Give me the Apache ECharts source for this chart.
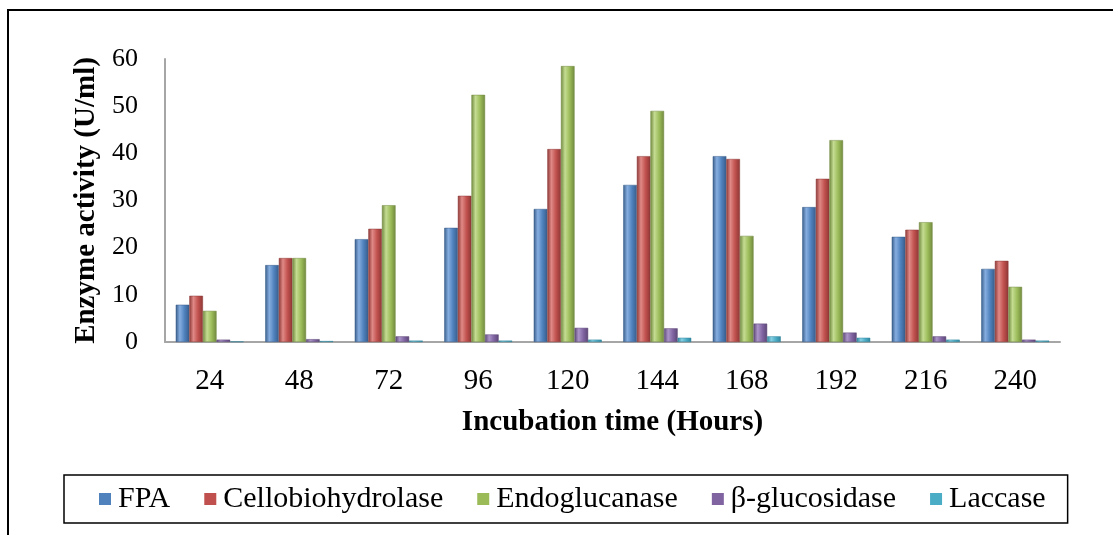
<!DOCTYPE html>
<html>
<head>
<meta charset="utf-8">
<script src="https://cdn.jsdelivr.net/npm/echarts@6/dist/echarts.min.js"></script>
<style>
  html, body { margin: 0; padding: 0; background: #fff; }
  #chart { width: 1113px; height: 535px; }
</style>
</head>
<body>
<div id="chart"></div>
<script>
// incubation time (hours)
const hours = ['24', '48', '72', '96', '120', '144', '168', '192', '216', '240']
// enzyme activity (U/ml)
const fpa = [7.9, 16.3, 21.8, 24.2, 28.2, 33.3, 39.4, 28.6, 22.3, 15.5]
const cellobiohydrolase = [9.8, 17.8, 24.0, 31.0, 40.9, 39.4, 38.8, 34.6, 23.8, 17.2]
const endoglucanase = [6.6, 17.8, 29.0, 52.4, 58.5, 49.0, 22.5, 42.8, 25.4, 11.7]
const betaGlucosidase = [0.5, 0.6, 1.2, 1.6, 3.0, 2.9, 3.9, 2.0, 1.2, 0.5]
const laccase = [0.1, 0.2, 0.3, 0.3, 0.5, 0.9, 1.2, 0.9, 0.5, 0.3]
const yTicks = [0, 10, 20, 30, 40, 50, 60]

const seriesNames = ['FPA', 'Cellobiohydrolase', 'Endoglucanase', 'β-glucosidase', 'Laccase']
const seriesData = [fpa, cellobiohydrolase, endoglucanase, betaGlucosidase, laccase]
// base / light / dark shades for the cylinder look
const palette = [
  ['#4f81bd', '#86aee0', '#385d8a'],
  ['#c0504d', '#e08986', '#8c3836'],
  ['#9bbb59', '#c4dc91', '#71893f'],
  ['#8064a2', '#ab95c8', '#5c4776'],
  ['#4bacc6', '#86d0e3', '#31859c']
]

const serif = '"Liberation Serif", "Times New Roman", serif'
const chart = echarts.init(document.getElementById('chart'))

const cylinder = c => new echarts.graphic.LinearGradient(0, 0, 1, 0, [
  { offset: 0, color: c[2] },
  { offset: 0.3, color: c[1] },
  { offset: 0.65, color: c[0] },
  { offset: 1, color: c[2] }
])

const option = {
  backgroundColor: '#fff',
  animation: false,
  graphic: [
    {
      // outer frame, cut off at right and bottom
      type: 'rect',
      shape: { x: 8, y: 10, width: 1200, height: 600 },
      style: { fill: 'none', stroke: '#000', lineWidth: 2 }
    }
  ],
  grid: { left: 165, right: 53, top: 59, bottom: 193 },
  legend: {
    left: 64,
    top: 475,
    padding: [9, 22, 9, 35],
    itemGap: 34,
    itemWidth: 12,
    itemHeight: 12,
    icon: 'rect',
    borderColor: '#000',
    borderWidth: 1.5,
    textStyle: { fontFamily: serif, fontSize: 30, color: '#000', padding: [0, 0, 0, 2] },
    data: seriesNames.map((n, i) => ({
      name: n,
      itemStyle: { color: palette[i][0], borderWidth: 0 }
    }))
  },
  xAxis: {
    type: 'category',
    data: hours,
    name: 'Incubation time (Hours)',
    nameLocation: 'middle',
    nameGap: 66,
    nameTextStyle: { fontFamily: serif, fontSize: 29, fontWeight: 'bold', color: '#000' },
    axisLine: { lineStyle: { color: '#a6a6a6', width: 2 } },
    axisTick: { show: false },
    axisLabel: { fontFamily: serif, fontSize: 29, color: '#000', margin: 25 }
  },
  yAxis: {
    type: 'value',
    min: yTicks[0],
    max: yTicks[yTicks.length - 1],
    interval: 10,
    name: 'Enzyme activity (U/ml)',
    nameLocation: 'middle',
    nameGap: 62,
    nameTextStyle: { fontFamily: serif, fontSize: 29, fontWeight: 'bold', color: '#000' },
    axisLine: { show: true, lineStyle: { color: '#a6a6a6', width: 2 } },
    axisTick: { show: false },
    splitLine: { show: false },
    axisLabel: { fontFamily: serif, fontSize: 26, color: '#000', margin: 27 }
  },
  series: seriesNames.map((n, i) => ({
    name: n,
    type: 'bar',
    data: seriesData[i],
    barGap: '0%',
    barCategoryGap: '24%',
    itemStyle: {
      color: cylinder(palette[i]),
      borderColor: palette[i][2],
      borderWidth: 0.5
    }
  }))
}

chart.setOption(option)
</script>
</body>
</html>
